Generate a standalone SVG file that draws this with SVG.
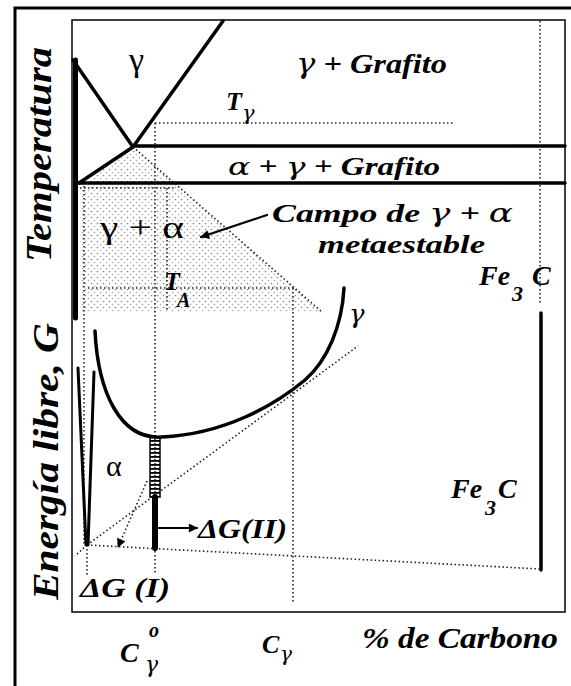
<svg xmlns="http://www.w3.org/2000/svg" width="571" height="686" viewBox="0 0 571 686">
<defs>
<style>
.solid{fill:none;stroke:#000;stroke-linecap:round}
.dot{fill:none;stroke:#222;stroke-width:1.6;stroke-dasharray:1.5 2.5}
.lbl{font-family:"Liberation Serif",serif;font-style:italic;font-weight:bold;fill:#000}
.grk{font-family:"Liberation Serif",serif;fill:#000}
.g{font-family:"DejaVu Serif",serif;font-style:italic;font-weight:normal}
</style>
<pattern id="stip" width="6" height="6" patternUnits="userSpaceOnUse">
<circle cx="1.5" cy="1.5" r="0.85" fill="#8a8a8a"/>
<circle cx="4.5" cy="4.5" r="0.85" fill="#aaa"/>
</pattern>
<pattern id="hatch" width="10" height="4" patternUnits="userSpaceOnUse">
<rect width="10" height="1.8" fill="#000"/>
</pattern>
<marker id="ah" viewBox="0 0 10 10" refX="9" refY="5" markerWidth="12" markerHeight="9" orient="auto" markerUnits="userSpaceOnUse">
<path d="M0,0 L10,5 L0,10 z" fill="#000"/>
</marker>
</defs>
<rect width="571" height="686" fill="#fff"/>

<g id="frame">
<path class="solid" d="M15,686 V8 H571" stroke-width="3" stroke-linecap="butt"/>
<path class="solid" d="M72,20 H565 V612 H72 Z" stroke-width="1.5" stroke-linecap="butt"/>
<line class="solid" x1="75.5" y1="60" x2="75.5" y2="318" stroke-width="5" stroke-linecap="butt"/>
</g>

<g id="stipple">
<polygon points="80,184 133,147 175,184 322,312 80,312" fill="url(#stip)"/>
</g>

<g id="phase-lines">
<line class="solid" x1="73" y1="60" x2="133" y2="147" stroke-width="3.5"/>
<line class="solid" x1="133" y1="147" x2="223" y2="21" stroke-width="3.5"/>
<line class="solid" x1="79" y1="183" x2="133" y2="147" stroke-width="3.5"/>
<line class="solid" x1="133" y1="146" x2="565" y2="146" stroke-width="3.5"/>
<line class="solid" x1="78" y1="183" x2="565" y2="183" stroke-width="3.5"/>
<line class="solid" x1="541" y1="313" x2="541" y2="570" stroke-width="3.5"/>
</g>

<g id="dotted-lines">
<line class="dot" x1="155" y1="123" x2="455" y2="123"/>
<line class="dot" x1="155" y1="123" x2="155" y2="575"/>
<line class="dot" x1="133" y1="147" x2="322" y2="312" stroke-width="2.2"/>
<line class="dot" x1="88" y1="288" x2="293" y2="288"/>
<line class="dot" x1="293" y1="288" x2="293" y2="602"/>
<line class="dot" x1="540" y1="21" x2="540" y2="305"/>
<line class="dot" x1="84" y1="186" x2="84" y2="545" stroke-width="2"/>
<line class="dot" x1="80" y1="188" x2="176" y2="188"/>
<line class="dot" x1="167" y1="188" x2="167" y2="312" stroke="#888"/>
<line class="dot" x1="87" y1="545" x2="358" y2="346"/>
<line class="dot" x1="87" y1="545" x2="540" y2="569"/>
<line class="dot" x1="87" y1="545" x2="87" y2="575"/>
<line class="dot" x1="87" y1="545" x2="75" y2="556"/>
</g>

<g id="curves">
<path class="solid" d="M95,331 C98,392 120,440 162,437 C225,434 275,405 305,380 C328,360 342,325 344,288" stroke-width="3.5"/>
<path class="solid" d="M78,368 L86,545" stroke-width="3"/>
<path class="solid" d="M94,372 L88,545" stroke-width="3"/>
</g>

<g id="delta-g">
<rect x="150" y="437" width="10" height="60" fill="url(#hatch)" stroke="#000" stroke-width="1.5"/>
<line class="solid" x1="155" y1="497" x2="155" y2="548" stroke-width="6" stroke-linecap="butt"/>
</g>

<g id="connectors">
<line class="solid" x1="267" y1="215" x2="201" y2="237" stroke-width="2.2" marker-end="url(#ah)"/>
<line class="solid" x1="158" y1="528" x2="197" y2="528" stroke-width="2.2" marker-end="url(#ah)"/>
<line class="dot" x1="147" y1="481" x2="118" y2="547" stroke-width="2" marker-end="url(#ah)"/>
</g>

<g id="labels">
<text class="grk" x="129" y="71" font-size="34">γ</text>
<text class="lbl" x="296" y="73" font-size="28" textLength="151" lengthAdjust="spacingAndGlyphs"><tspan class="g">γ</tspan> + Grafito</text>
<text class="lbl" x="226" y="110" font-size="26">T</text>
<text class="lbl g" x="242" y="120" font-size="21">γ</text>
<text class="lbl" x="228" y="175" font-size="25" textLength="212" lengthAdjust="spacingAndGlyphs"><tspan class="g">α</tspan> + <tspan class="g">γ</tspan> + Grafito</text>
<text class="grk" x="100" y="238" font-size="31" textLength="84" lengthAdjust="spacingAndGlyphs">γ + α</text>
<text class="lbl" x="272" y="222" font-size="26" textLength="241" lengthAdjust="spacingAndGlyphs">Campo de <tspan class="g">γ</tspan> + <tspan class="g">α</tspan></text>
<text class="lbl" x="318" y="253" font-size="26" textLength="167" lengthAdjust="spacingAndGlyphs">metaestable</text>
<text class="lbl" x="164" y="290" font-size="26">T</text>
<text class="lbl" x="177" y="307" font-size="20">A</text>
<text class="lbl" x="479" y="285" font-size="28">Fe</text>
<text class="lbl" x="512" y="301" font-size="22">3</text>
<text class="lbl" x="532" y="285" font-size="28">C</text>
<text class="lbl g" x="349" y="323" font-size="26">γ</text>
<text class="grk" x="106" y="476" font-size="30">α</text>
<text class="lbl" x="198" y="538" font-size="28" textLength="89" lengthAdjust="spacingAndGlyphs">ΔG(II)</text>
<text class="lbl" x="80" y="597" font-size="28" textLength="90" lengthAdjust="spacingAndGlyphs">ΔG (I)</text>
<text class="lbl" x="451" y="498" font-size="28">Fe</text>
<text class="lbl" x="485" y="515" font-size="22">3</text>
<text class="lbl" x="498" y="498" font-size="28">C</text>
<text class="lbl" x="120" y="662" font-size="28">C</text>
<text class="lbl" x="149" y="637" font-size="20">o</text>
<text class="lbl g" x="145" y="672" font-size="22">γ</text>
<text class="lbl" x="262" y="653" font-size="26">C</text>
<text class="lbl g" x="280" y="661" font-size="20">γ</text>
<text class="lbl" x="362" y="648" font-size="29" textLength="196" lengthAdjust="spacingAndGlyphs">% de Carbono</text>
<text class="lbl" font-size="36" transform="translate(51,262) rotate(-90)" textLength="215" lengthAdjust="spacingAndGlyphs">Temperatura</text>
<text class="lbl" font-size="36" transform="translate(58,600) rotate(-90)" textLength="277" lengthAdjust="spacingAndGlyphs">Energía libre, G</text>
</g>
</svg>
